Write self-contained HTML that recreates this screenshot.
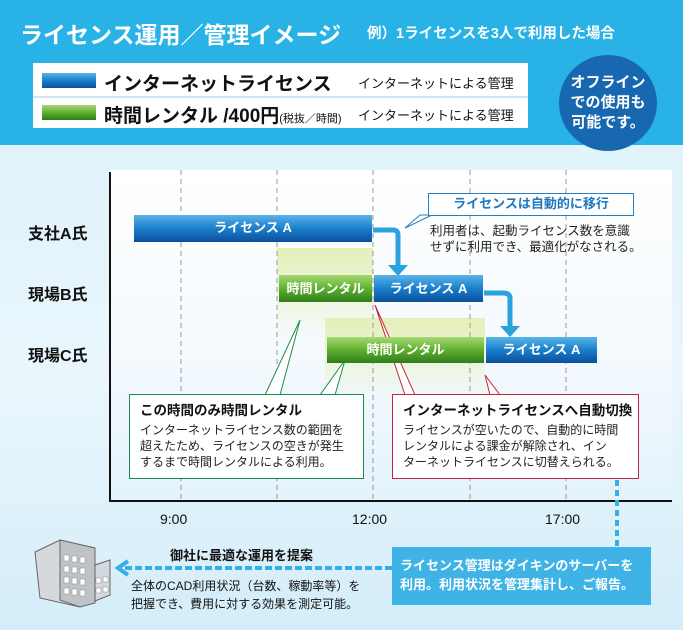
<!DOCTYPE html>
<html><head><meta charset="utf-8"><style>
*{margin:0;padding:0;box-sizing:border-box}
body{width:683px;height:630px;position:relative;overflow:hidden;font-family:"Liberation Sans","Noto Sans CJK JP",sans-serif;background:linear-gradient(#d9eff9,#eaf6fc 60%,#d4edf9)}
.a{position:absolute;white-space:nowrap}
.b{font-weight:bold}
.bar{position:absolute;color:#fff;font-weight:bold;font-size:13px;text-align:center}
.blue{background:linear-gradient(#5bb4e8,#1a7fcc 50%,#0b4f9c)}
.green{background:linear-gradient(#a7d873,#5fb030 50%,#2f7d1a)}
</style></head><body>
<div class="a" style="left:0;top:0;width:683px;height:145px;background:#29b2e6"></div>
<div class="a b" style="left:20px;top:16px;font-size:23px;color:#fff">ライセンス運用／管理イメージ</div>
<div class="a b" style="left:367px;top:22px;font-size:14.5px;color:#fff">例）1ライセンスを3人で利用した場合</div>
<div class="a" style="left:33px;top:63px;width:495px;height:65px;background:#fff"></div>
<div class="a" style="left:33px;top:96px;width:495px;height:2px;background:#cfe6f3"></div>
<div class="bar blue" style="left:42px;top:73px;width:54px;height:15px"></div>
<div class="bar green" style="left:42px;top:105px;width:54px;height:15px"></div>
<div class="a b" style="left:104px;top:69px;font-size:19px;color:#111">インターネットライセンス</div>
<div class="a b" style="left:104px;top:101px;font-size:19px;color:#111">時間レンタル /400円<span style="font-size:11px;font-weight:normal">(税抜／時間)</span></div>
<div class="a" style="left:358px;top:73px;font-size:13px;color:#111">インターネットによる管理</div>
<div class="a" style="left:358px;top:105px;font-size:13px;color:#111">インターネットによる管理</div>
<div class="a b" style="left:559px;top:55px;width:98px;height:96px;border-radius:50%;background:#1768b0;color:#fff;font-size:15px;line-height:20px;text-align:center;padding-top:18px">オフライン<br>での使用も<br>可能です。</div>

<div class="a" style="left:110px;top:170px;width:562px;height:330px;background:linear-gradient(#fff,#f3f9fd 60%,#e3f2fb)"></div>
<div class="a" style="left:277px;top:248px;width:96px;height:90px;background:linear-gradient(#e4efb8,rgba(230,240,190,0))"></div>
<div class="a" style="left:325px;top:318px;width:160px;height:80px;background:linear-gradient(#e4efb8,rgba(230,240,190,0))"></div>
<svg class="a" style="left:0;top:0" width="683" height="630">
<g stroke="#999" stroke-dasharray="5,4" stroke-width="1">
<line x1="181" y1="170" x2="181" y2="500"/><line x1="277" y1="170" x2="277" y2="500"/><line x1="373" y1="170" x2="373" y2="500"/><line x1="470" y1="170" x2="470" y2="500"/><line x1="566" y1="170" x2="566" y2="500"/>
</g>
<line x1="110" y1="172" x2="110" y2="501" stroke="#111" stroke-width="2"/>
<line x1="109" y1="501" x2="672" y2="501" stroke="#111" stroke-width="2"/>
<path d="M373 230 H393 Q398 230 398 235 V268" fill="none" stroke="#2ba2dd" stroke-width="5"/>
<path d="M388 265 L398 276 L408 265 Z" fill="#2ba2dd"/>
<path d="M484 293 H503 Q510 293 510 298 V328" fill="none" stroke="#2ba2dd" stroke-width="5"/>
<path d="M500 326 L510 337 L520 326 Z" fill="#2ba2dd"/>
<polygon points="420,215 405,228 432,215" fill="#fff" stroke="#2a7fc0"/>
<g fill="#fff" stroke="#1f8a4c" stroke-width="1">
<polygon points="265,395 300,320 280,395"/><polygon points="320,395 345,360 335,395"/>
</g>
<g fill="#fff" stroke="#c0283a" stroke-width="1">
<polygon points="405,395 375,305 415,395"/><polygon points="490,395 485,375 500,395"/>
</g>
<line x1="617" y1="480" x2="617" y2="547" stroke="#35b0e6" stroke-width="4" stroke-dasharray="6,4"/>
<line x1="392" y1="568" x2="125" y2="568" stroke="#35b0e6" stroke-width="4" stroke-dasharray="7,3"/>
<path d="M128 561 L118 568 L128 575" fill="none" stroke="#35b0e6" stroke-width="4"/>
<polygon points="35,552 60,540 95,548 95,565 110,560 110,595 80,607 40,598" fill="#d5d8dc" stroke="#666"/>
<polygon points="60,540 95,548 95,603 80,607 60,600" fill="#bfc3c8" stroke="#666"/>
<g fill="#fff" stroke="#888" stroke-width=".5">
<rect x="64" y="555" width="5" height="6"/><rect x="72" y="556" width="5" height="6"/><rect x="80" y="557" width="5" height="6"/>
<rect x="64" y="566" width="5" height="6"/><rect x="72" y="567" width="5" height="6"/><rect x="80" y="568" width="5" height="6"/>
<rect x="64" y="577" width="5" height="6"/><rect x="72" y="578" width="5" height="6"/><rect x="80" y="579" width="5" height="6"/>
<rect x="64" y="588" width="5" height="6"/><rect x="72" y="589" width="5" height="6"/><rect x="80" y="590" width="5" height="6"/>
<rect x="96" y="578" width="5" height="5"/><rect x="103" y="577" width="5" height="5"/><rect x="96" y="588" width="5" height="5"/><rect x="103" y="587" width="5" height="5"/>
</g>
</svg>
<div class="a b" style="left:28px;top:220px;font-size:16px;color:#111">支社A氏</div>
<div class="a b" style="left:28px;top:281px;font-size:16px;color:#111">現場B氏</div>
<div class="a b" style="left:28px;top:342px;font-size:16px;color:#111">現場C氏</div>
<div class="bar blue" style="left:134px;top:215px;width:238px;height:27px;line-height:25px">ライセンス A</div>
<div class="bar green" style="left:279px;top:275px;width:93px;height:27px;line-height:27px">時間レンタル</div>
<div class="bar blue" style="left:374px;top:275px;width:109px;height:27px;line-height:27px">ライセンス A</div>
<div class="bar green" style="left:327px;top:337px;width:157px;height:26px;line-height:26px">時間レンタル</div>
<div class="bar blue" style="left:486px;top:337px;width:111px;height:26px;line-height:26px">ライセンス A</div>
<div class="a b" style="left:428px;top:193px;width:206px;height:23px;background:#fff;border:1.5px solid #2a7fc0;color:#1d78c0;font-size:13px;text-align:center;line-height:20px">ライセンスは自動的に移行</div>
<div class="a" style="left:430px;top:223px;font-size:12.5px;line-height:16px;color:#222">利用者は、起動ライセンス数を意識<br>せずに利用でき、最適化がなされる。</div>
<div class="a" style="left:129px;top:394px;width:235px;height:85px;background:#fff;border:1.5px solid #1f8a4c;padding:8px 10px;font-size:12px;line-height:16px;color:#222"><div class="b" style="font-size:13.5px;margin-bottom:3px;color:#111">この時間のみ時間レンタル</div>インターネットライセンス数の範囲を<br>超えたため、ライセンスの空きが発生<br>するまで時間レンタルによる利用。</div>
<div class="a" style="left:392px;top:394px;width:247px;height:85px;background:#fff;border:1.5px solid #c0283a;padding:8px 10px;font-size:12px;line-height:16px;color:#222"><div class="b" style="font-size:13.5px;margin-bottom:3px;color:#111">インターネットライセンスへ自動切換</div>ライセンスが空いたので、自動的に時間<br>レンタルによる課金が解除され、イン<br>ターネットライセンスに切替えられる。</div>
<div class="a" style="left:160px;top:511px;font-size:14px;color:#111">9:00</div>
<div class="a" style="left:352px;top:511px;font-size:14px;color:#111">12:00</div>
<div class="a" style="left:545px;top:511px;font-size:14px;color:#111">17:00</div>
<div class="a b" style="left:392px;top:547px;width:259px;height:58px;background:#3fb3e6;color:#fff;font-size:13px;line-height:19px;padding:9px 0 0 8px">ライセンス管理はダイキンのサーバーを<br>利用。利用状況を管理集計し、ご報告。</div>
<div class="a b" style="left:170px;top:545px;font-size:13px;color:#111">御社に最適な運用を提案</div>
<div class="a" style="left:131px;top:577px;font-size:12px;line-height:18px;color:#111">全体のCAD利用状況（台数、稼動率等）を<br>把握でき、費用に対する効果を測定可能。</div>
</body></html>
